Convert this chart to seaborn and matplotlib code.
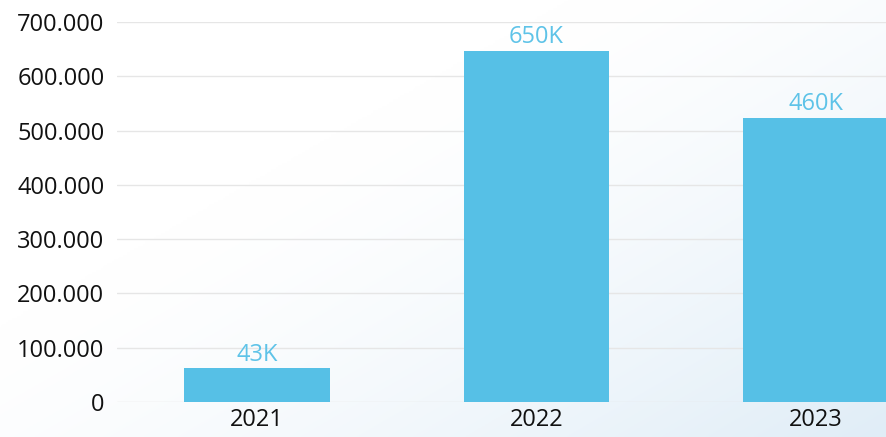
import numpy as np
import pandas as pd
import matplotlib
matplotlib.use("Agg")
import matplotlib.pyplot as plt
import seaborn as sns
from matplotlib.ticker import FuncFormatter

years = ["2021", "2022", "2023"]
values = [62000, 647000, 524000]
labels = ["43K", "650K", "460K"]
yticks = [0, 100000, 200000, 300000, 400000, 500000, 600000, 700000]

bar_color = "#56C0E6"
label_color = "#5EC3E8"

sns.set_theme(style="white")
plt.rcParams["font.family"] = ["Open Sans", "DejaVu Sans"]

fig = plt.figure(figsize=(8.86, 4.37), dpi=100)

# background gradient (white top-left -> light blue bottom-right)
bg = fig.add_axes([0, 0, 1, 1], zorder=0)
xx, yy = np.meshgrid(np.linspace(0, 1, 400), np.linspace(0, 1, 200))
t = np.clip((xx * 0.7 + (1 - yy) * 0.6 - 0.45) / 0.85, 0, 1) ** 1.4
c0 = np.array([1.0, 1.0, 1.0])
c1 = np.array([0xE0, 0xED, 0xF7]) / 255
img = c0[None, None, :] * (1 - t[..., None]) + c1[None, None, :] * t[..., None]
bg.imshow(img, aspect="auto", origin="lower", extent=[0, 1, 0, 1])
bg.set_axis_off()

ax = fig.add_axes([117 / 886, 35 / 437, 1 - 117 / 886, 380 / 437], zorder=1)
ax.patch.set_alpha(0)

df = pd.DataFrame({"year": years, "value": values})
sns.barplot(data=df, x="year", y="value", color=bar_color, saturation=1,
            width=0.52, linewidth=0, ax=ax, zorder=2)

for i, (v, lab) in enumerate(zip(values, labels)):
    ax.annotate(lab, (i, v), xytext=(0, 1), textcoords="offset points",
                ha="center", va="bottom", color=label_color, fontsize=17)

ax.set_xlim(-0.5, 2.25)
ax.set_ylim(0, 700000)
ax.set_yticks(yticks)
ax.yaxis.set_major_formatter(FuncFormatter(lambda v, p: f"{int(v):,}".replace(",", ".")))
ax.grid(axis="y", color="#e6e6e6", linewidth=1, zorder=0)
ax.set_axisbelow(True)
for s in ax.spines.values():
    s.set_visible(False)
ax.tick_params(axis="both", length=0, labelsize=17, colors="#111111")
ax.tick_params(axis="y", pad=9)
ax.tick_params(axis="x", pad=4)
ax.set_xlabel("")
ax.set_ylabel("")

fig.savefig("out.png", dpi=100)
